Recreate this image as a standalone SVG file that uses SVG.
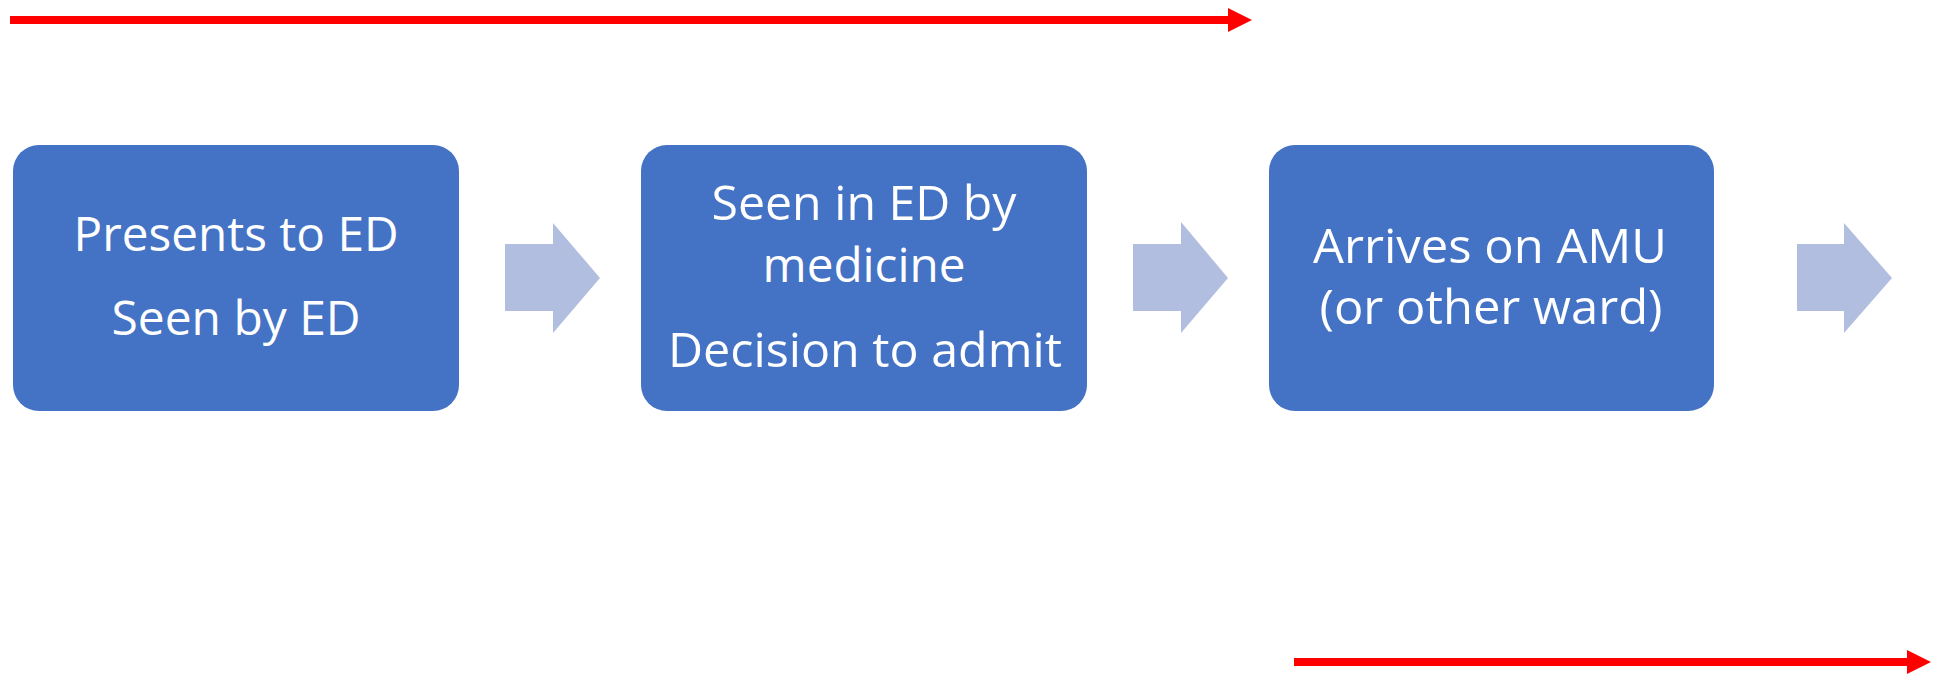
<svg xmlns="http://www.w3.org/2000/svg" width="1940" height="674" viewBox="0 0 1940 674">
<style>
.box{fill:#4472C4;}
.chev{fill:#B1BEE0;}
.t{fill:#FFFFFF;font-family:"Open Sans","Noto Sans",sans-serif;font-size:48px;text-anchor:middle;}
.red{stroke:#FF0000;stroke-width:8;fill:none;}
.redhead{fill:#FF0000;}
</style>
<rect width="1940" height="674" fill="#FFFFFF"/>
<g id="node1">
<rect class="box" x="13" y="145" width="446" height="266" rx="26" ry="26"/>
<text class="t" x="236" y="251" textLength="325" lengthAdjust="spacingAndGlyphs">Presents to ED</text>
<text class="t" x="236" y="335" textLength="249" lengthAdjust="spacingAndGlyphs">Seen by ED</text>
</g>
<g id="node2">
<rect class="box" x="641" y="145" width="446" height="266" rx="26" ry="26"/>
<text class="t" x="864" y="220" textLength="305" lengthAdjust="spacingAndGlyphs">Seen in ED by</text>
<text class="t" x="864" y="282" textLength="203" lengthAdjust="spacingAndGlyphs">medicine</text>
<text class="t" x="865" y="367" textLength="394" lengthAdjust="spacingAndGlyphs">Decision to admit</text>
</g>
<g id="node3">
<rect class="box" x="1269" y="145" width="445" height="266" rx="26" ry="26"/>
<text class="t" x="1490" y="263" textLength="354" lengthAdjust="spacingAndGlyphs">Arrives on AMU</text>
<text class="t" x="1491" y="324" textLength="343" lengthAdjust="spacingAndGlyphs">(or other ward)</text>
</g>
<g id="connectors">
<polygon class="chev" points="505,244 553,244 553,223 600,278 553,333 553,311 505,311"/>
<polygon class="chev" points="1133,244 1181,244 1181,222 1228,278 1181,333 1181,311 1133,311"/>
<polygon class="chev" points="1797,244 1844,244 1844,223 1892,278 1844,333 1844,311 1797,311"/>
<line class="red" x1="10" y1="20" x2="1230" y2="20"/>
<polygon class="redhead" points="1228,8 1252,20 1228,32"/>
<line class="red" x1="1294" y1="662" x2="1909" y2="662"/>
<polygon class="redhead" points="1907,650 1931,662 1907,674"/>
</g>
</svg>
